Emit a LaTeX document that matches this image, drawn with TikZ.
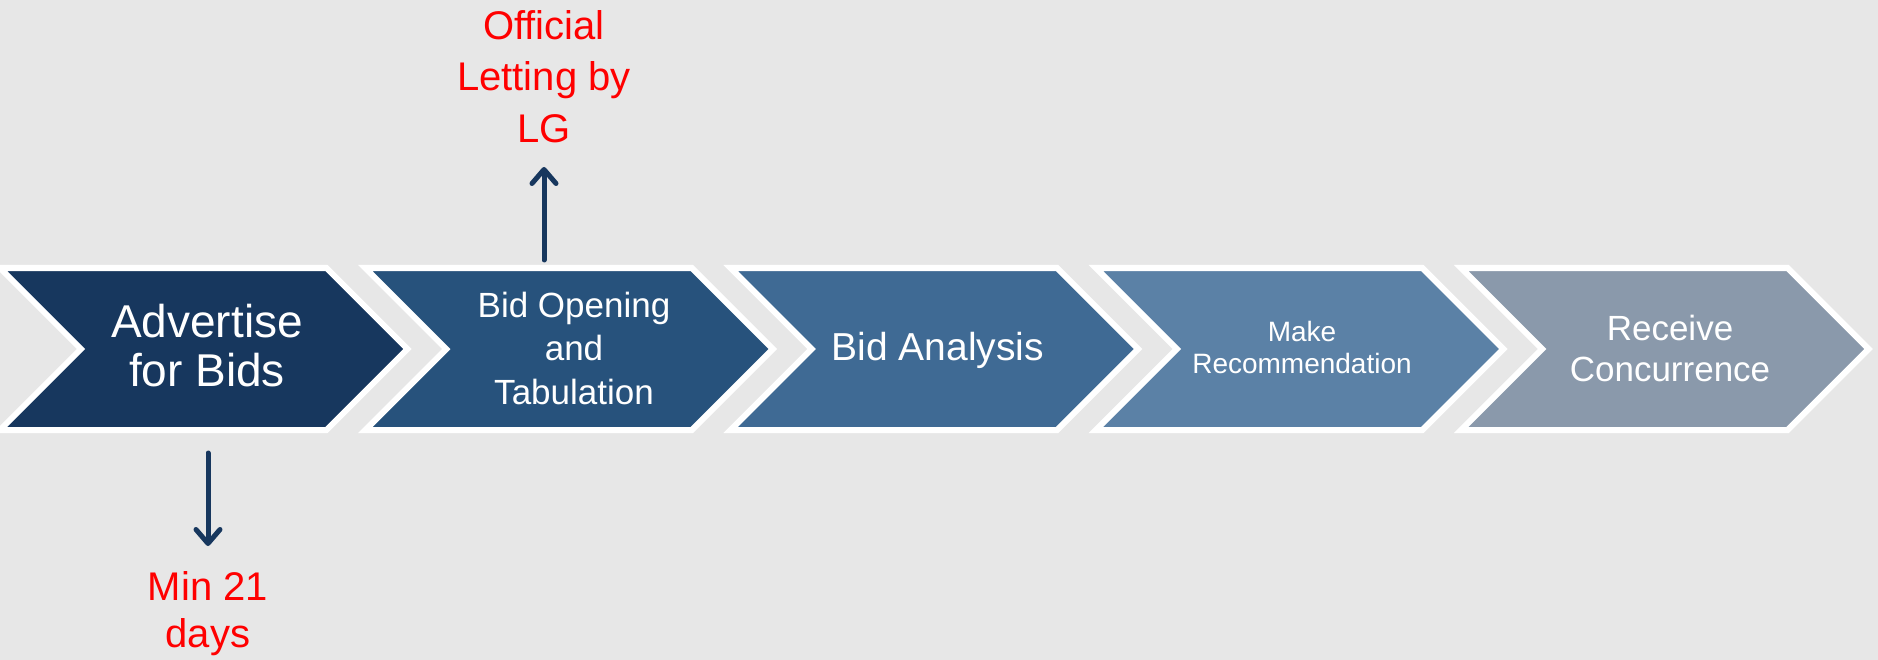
\documentclass[tikz,border=0pt]{standalone}
\usepackage{fontspec}
\setmainfont{Liberation Sans}
\usetikzlibrary{arrows.meta}
\definecolor{bg}{HTML}{E7E7E7}
\definecolor{navy}{HTML}{17375E}
\definecolor{c1}{HTML}{17375E}
\definecolor{c2}{HTML}{27527C}
\definecolor{c3}{HTML}{3F6A94}
\definecolor{c4}{HTML}{5B81A6}
\definecolor{c5}{HTML}{8A99AB}
\begin{document}
\begin{tikzpicture}[x=1pt,y=-1pt,
  chev/.style={fill=#1, draw=white, line width=6pt, line join=miter},
  lbl/.style={text=white, align=center, inner sep=0pt},
  note/.style={text=red, align=center, inner sep=0pt},
  arr/.style={draw=navy, line width=5pt, line cap=round, -{Straight Barb[length=14pt,width=24pt,round]}}]
\useasboundingbox (0,0) rectangle (1878,660);
\clip (0,0) rectangle (1878,660);
\fill[bg] (0,0) rectangle (1878,660);
\foreach \i/\c in {0/c1,1/c2,2/c3,3/c4,4/c5}{
  \draw[chev=\c] ({365.25*\i},268) -- ++(326.5,0) -- ++(81,81) -- ++(-81,81) -- ++(-326.5,0) -- ++(81,-81) -- cycle;
}
\node[lbl, font=\fontsize{46}{49}\selectfont] (s1) at (207,345.7) {Advertise\\for Bids};
\node[lbl, font=\fontsize{35}{43.5}\selectfont] (s2) at (574,348) {Bid Opening\\and\\Tabulation};
\node[lbl, font=\fontsize{39}{47}\selectfont, anchor=base] (s3) at (938,360) {Bid Analysis};
\node[lbl, font=\fontsize{28}{32}\selectfont] (s4) at (1302,347.8) {Make\\Recommendation};
\node[lbl, font=\fontsize{35}{41}\selectfont] (s5) at (1670,348) {Receive\\Concurrence};
\node[note, font=\fontsize{40}{51.5}\selectfont] (n1) at (544,76.7) {Official\\Letting by\\LG};
\node[note, font=\fontsize{40}{47}\selectfont] (n2) at (208,613.4) {Min 21\\days};
\coordinate (a1s) at (544,260);
\coordinate (a1e) at (544,167);
\coordinate (a2s) at (208,453);
\coordinate (a2e) at (208,546);
\draw[arr] (a1s) -- (a1e);
\draw[arr] (a2s) -- (a2e);
\end{tikzpicture}
\end{document}
